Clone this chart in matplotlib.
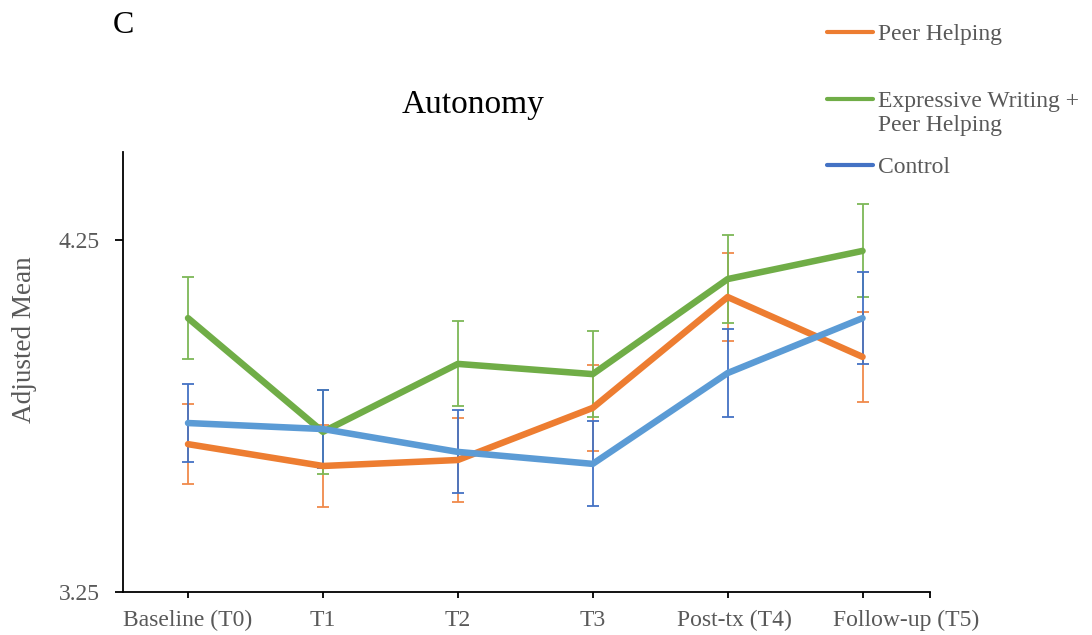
import matplotlib.pyplot as plt
from matplotlib.lines import Line2D
from matplotlib.transforms import ScaledTranslation

plt.rcParams['font.family'] = ['Liberation Serif', 'DejaVu Serif']

# Time points
timepoints = ["Baseline (T0)", "T1", "T2", "T3", "Post-tx (T4)", "Follow-up (T5)"]

# Adjusted means and error bar half-widths
peer_mean = [3.670, 3.608, 3.625, 3.773, 4.088, 3.918]
peer_err = [0.114, 0.117, 0.119, 0.122, 0.126, 0.128]

ewph_mean = [4.028, 3.705, 3.898, 3.869, 4.139, 4.219]
ewph_err = [0.116, 0.119, 0.121, 0.122, 0.126, 0.132]

control_mean = [3.730, 3.713, 3.648, 3.614, 3.872, 4.028]
control_err = [0.112, 0.112, 0.118, 0.121, 0.125, 0.131]

yticks = [3.25, 4.25]

gray = "#595959"
series = [
    ("Peer Helping", peer_mean, peer_err, "#ED7D31", "#F08A4B", "#ED7D31"),
    ("Expressive Writing +\nPeer Helping", ewph_mean, ewph_err, "#70AD47", "#7DB857", "#70AD47"),
    ("Control", control_mean, control_err, "#5B9BD5", "#4472C4", "#4472C4"),
]

fig = plt.figure(figsize=(10.92, 6.35), dpi=100)
ax = fig.add_axes([123 / 1092, 1 - 592 / 635, (930 - 123) / 1092, (592 - 152) / 635])

x = list(range(len(timepoints)))
for i, (name, mean, err, lc, ec, hc) in enumerate(series):
    ax.errorbar(x, mean, yerr=err, fmt='none', ecolor=ec, elinewidth=1.3,
                capsize=4.5, capthick=1.3, zorder=2 + i * 0.1)
    ax.plot(x, mean, color=lc, lw=4.7, solid_capstyle='round',
            solid_joinstyle='round', zorder=3 + i * 0.1)

ax.set_xlim(-0.482, 5.5)
ax.set_ylim(3.25, 4.5)
ax.set_xticks(x)
ax.set_xticklabels(timepoints)
ax.set_xticks([5.5], minor=True)
ax.set_yticks(yticks)
ax.set_yticklabels([f"{v:.2f}" for v in yticks])

for s in ["top", "right"]:
    ax.spines[s].set_visible(False)
for s in ["left", "bottom"]:
    ax.spines[s].set_linewidth(1.3)
ax.tick_params(axis='x', which='both', direction='out', length=4, width=1.3,
               labelsize=17, labelcolor=gray, pad=9)
ax.tick_params(axis='y', direction='out', length=6, width=1.3,
               labelsize=17, labelcolor=gray, pad=11)
ax.set_ylabel("Adjusted Mean", fontsize=19.5, color=gray)
ax.yaxis.set_label_coords((37 - 123) / 807, (592 - 340) / 440)

# the last two category labels sit a bit right of their ticks in the original
for lbl, dx in zip(ax.get_xticklabels()[4:], [7, 44]):
    lbl.set_transform(lbl.get_transform() + ScaledTranslation(dx / 100, 0, fig.dpi_scale_trans))

fig.text(473 / 1092, 1 - 113 / 635, "Autonomy", fontsize=24, color="black",
         ha='center', va='baseline')
fig.text(113 / 1092, 1 - 33 / 635, "C", fontsize=23, color="black",
         ha='left', va='baseline')

# manual legend, placed like the original
legend_y = [32, 99, 165]
for (name, mean, err, lc, ec, hc), yy in zip(series, legend_y):
    yf = 1 - yy / 635
    fig.add_artist(Line2D([827 / 1092, 873 / 1092], [yf, yf], color=hc, lw=3,
                          solid_capstyle='round', transform=fig.transFigure))
    fig.text(878 / 1092, 1 - (yy - 8) / 635, name, fontsize=17, color=gray,
             ha='left', va='top', linespacing=1.2)

fig.savefig("out.png", dpi=100)
